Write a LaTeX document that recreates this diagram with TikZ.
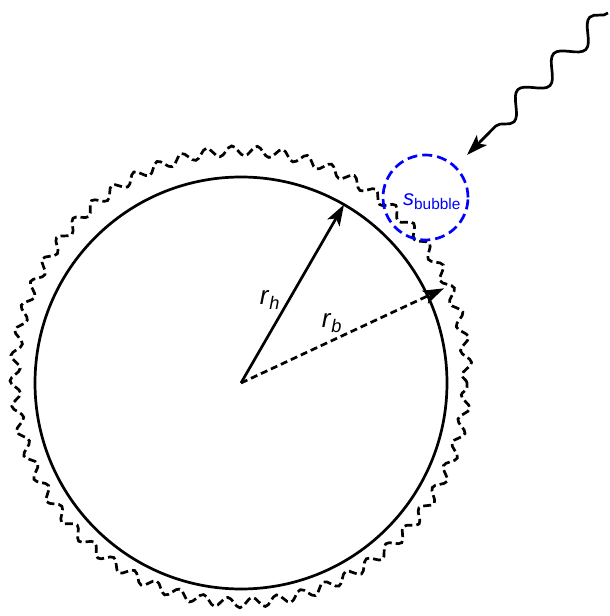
\documentclass[tikz,border=0pt]{standalone}
\usepackage{fontspec}
\setmainfont{Liberation Sans}
\usetikzlibrary{calc, arrows.meta, decorations.pathmorphing}

\begin{document}
\begin{tikzpicture}[
    x=1pt, y=1pt,
    line width=2.7pt,
    tip/.style={-{Stealth[length=21pt, width=14pt, inset=5pt]}},
    wall/.style={decorate, dash pattern=on 8pt off 4pt,
      decoration={snake, segment length=25pt, amplitude=5pt}},
    bubble/.style={draw=blue, circle, dash pattern=on 10pt off 5pt,
      minimum size=85pt, inner sep=0pt},
    photon/.style={decorate,
      decoration={snake, mirror, segment length=51pt, amplitude=10pt, post length=30pt}},
    lbl/.style={font=\fontsize{26}{30}\selectfont},
  ]
  \useasboundingbox (0,0) rectangle (610,616);
  \coordinate (c) at (241,233);
  % halo and wall
  \draw (c) circle[radius=206];
  \draw[wall] (c) circle[radius=226];
  % bubble on the wall
  \node[bubble] (bub) at (425.5,418.5) {};
  \node[text=blue, font=\fontsize{22}{26}\selectfont] (sb) at (432,414)
    {\textit{s}\textsubscript{bubble}};
  % radii
  \coordinate (h) at ($(c)+(60:206)$);
  \coordinate (b) at ($(c)+(25:224)$);
  \draw[tip] (c) -- (h);
  \draw[tip, dash pattern=on 7pt off 4pt] (c) -- (b);
  \node[lbl] (rh) at (270,316) {\textit{r}\textsubscript{\textit{h}}};
  \node[lbl] (rb) at (332,293) {\textit{r}\textsubscript{\textit{b}}};
  % incoming wave
  \coordinate (src) at (608,603);
  \coordinate (dst) at (467,461);
  \draw[photon, tip] (src) -- (dst);
\end{tikzpicture}
\end{document}
